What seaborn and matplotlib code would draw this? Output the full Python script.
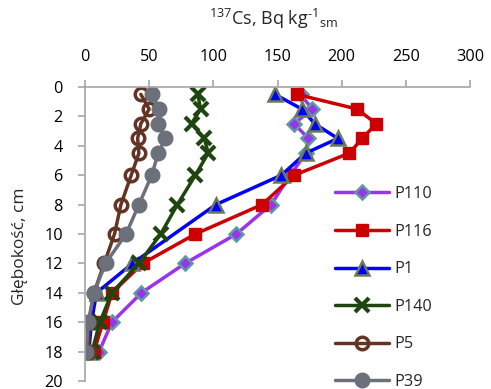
import numpy as np
import pandas as pd
import matplotlib
matplotlib.use("Agg")
import matplotlib.pyplot as plt
import seaborn as sns

sns.set_theme(style="white")
plt.rcParams['font.family'] = ['Open Sans', 'DejaVu Sans']
plt.rcParams['mathtext.fontset'] = 'custom'
plt.rcParams['mathtext.rm'] = 'Open Sans'
plt.rcParams['mathtext.it'] = 'Open Sans'
plt.rcParams['mathtext.bf'] = 'Open Sans'

depths = [0.5, 1.5, 2.5, 3.5, 4.5, 6, 8, 10, 12, 14, 16, 18]
series_names = ["P110", "P116", "P1", "P140", "P5", "P39"]
p110 = [168, 177, 163, 174, 172, 160, 145, 118, 78, 44, 21, 11]
p116 = [165, 212, 227, 216, 206, 163, 138, 86, 45, 21, 14, 7]
p1 = [148, 169, 179, 197, 172, 153, 102, np.nan, 37, 9, 5, 3]
p140 = [88, 90, 83, 93, 96, 86, 72, 59, 42, 21, 11.5, 5.5]
p5 = [43.5, 50, 43.5, 41, 42, 36, 28, 23, 15, 7, 3, 3]
p39 = [52, 58, 57, 62.5, 57, 52, 42, 32, 16, 7, 2.5, 1]
values = [p110, p116, p1, p140, p5, p39]

x_ticks = [0, 50, 100, 150, 200, 250, 300]
y_ticks = list(range(0, 21, 2))

styles = {
    "P110": dict(color="#9933ee", marker="D", ms=7, mfc="#9933ee", mec="#5f9aa0", mew=1.8),
    "P116": dict(color="#cc0000", marker="s", ms=9, mfc="#cc0000", mec="#cc0000", mew=1),
    "P1": dict(color="#0000ff", marker="^", ms=9.5, mfc="#0000ff", mec="#6b7a5a", mew=1.8),
    "P140": dict(color="#1f4510", marker="x", ms=10, mfc="#1f4510", mec="#1f4510", mew=3),
    "P5": dict(color="#633324", marker="o", ms=9, mfc="none", mec="#633324", mew=2.5),
    "P39": dict(color="#6c707a", marker="o", ms=10.5, mfc="#6c707a", mec="#6c707a", mew=1),
}

fig = plt.figure(figsize=(4.91, 3.89), dpi=100)
ax = fig.add_axes([85 / 491, 1 - 381 / 389, (470 - 85) / 491, (381 - 87) / 389])

for name, vals in zip(series_names, values):
    df = pd.DataFrame({"x": vals, "y": depths}).dropna()
    st = styles[name]
    sns.lineplot(data=df, x="x", y="y", ax=ax, sort=False, orient="y",
                 color=st["color"], lw=2.5, marker=st["marker"], markersize=st["ms"],
                 markerfacecolor=st["mfc"], markeredgecolor=st["mec"],
                 markeredgewidth=st["mew"], label=name, estimator=None)

ax.set_xlim(0, 300)
ax.set_ylim(20, 0)
ax.set_xticks(x_ticks)
ax.set_yticks(y_ticks)
ax.xaxis.tick_top()
ax.xaxis.set_label_position("top")
ax.set_xlabel("$^{137}$Cs, Bq kg$^{\u2010\\mathrm{1}}$$_{\\mathrm{sm}}$", fontsize=13)
ax.xaxis.set_label_coords((274 - 85) / 385, (381 - 19) / 294)
ax.xaxis.label.set_va("center")
ax.set_ylabel("Głębokość, cm", fontsize=12.5)
ax.yaxis.set_label_coords((20 - 85) / 385, (381 - 246) / 294)
ax.yaxis.label.set_va("center")
for s in ["right", "bottom"]:
    ax.spines[s].set_visible(False)
for s in ["left", "top"]:
    ax.spines[s].set_color("#a6a6a6")
    ax.spines[s].set_linewidth(1.2)
ax.tick_params(axis="both", which="both", direction="out", length=5, width=1.2,
               color="#a6a6a6", labelsize=11.7, labelcolor="black")
ax.tick_params(axis="x", top=True, bottom=False, pad=11)
ax.tick_params(axis="y", left=True, pad=11)
ax.grid(False)

leg = ax.legend(loc="upper left", bbox_to_anchor=(335 / 491, 1 - 186 / 389),
                bbox_transform=fig.transFigure, frameon=False, fontsize=11.7,
                handlelength=3.3, handletextpad=0.35, labelspacing=1.33, borderpad=0,
                borderaxespad=0)

fig.savefig("out.png", dpi=100)
